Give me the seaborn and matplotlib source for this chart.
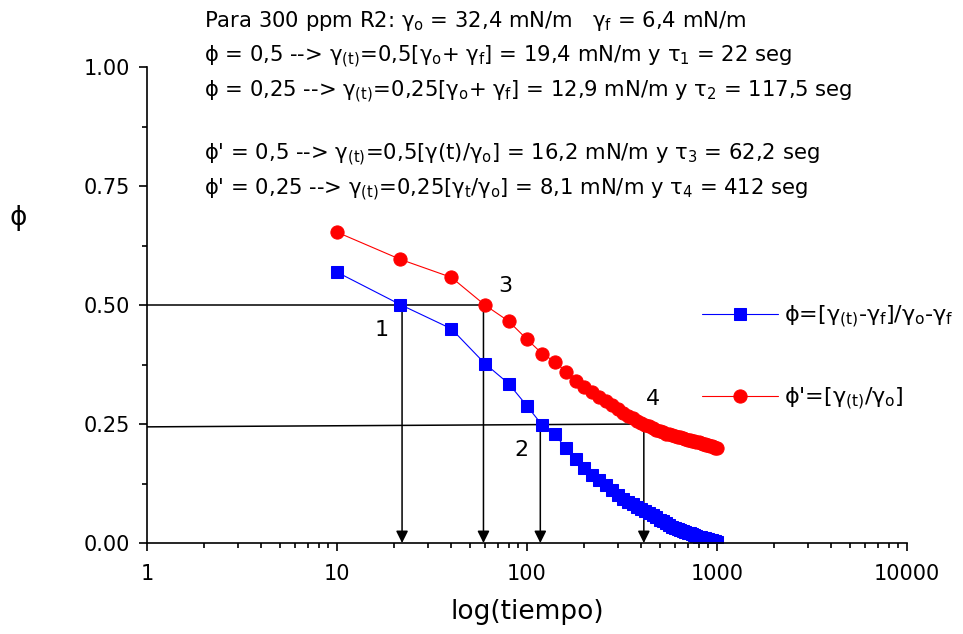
import matplotlib
matplotlib.use("Agg")
import matplotlib.pyplot as plt
import seaborn as sns
import pandas as pd

# ---- data ----
tiempo = [10, 21.5, 40, 60, 80, 100, 120, 140, 160, 180, 200, 220, 240, 260, 280,
          300, 320, 340, 360, 380, 400, 420, 440, 460, 480, 500, 520, 540, 560, 580,
          600, 620, 640, 660, 680, 700, 720, 740, 760, 780, 800, 820, 840, 860, 880,
          900, 920, 940, 960, 980, 1000]

phi = [0.569, 0.501, 0.450, 0.377, 0.335, 0.288, 0.248, 0.229, 0.199, 0.176, 0.157,
       0.143, 0.133, 0.122, 0.112, 0.101, 0.092, 0.086, 0.081, 0.076, 0.071, 0.067,
       0.062, 0.058, 0.054, 0.049, 0.046, 0.042, 0.038, 0.034, 0.031, 0.029, 0.027,
       0.025, 0.023, 0.021, 0.020, 0.018, 0.016, 0.014, 0.013, 0.012, 0.011, 0.010,
       0.009, 0.008, 0.007, 0.006, 0.005, 0.004, 0.003]

phi_prima = [0.653, 0.596, 0.558, 0.500, 0.466, 0.428, 0.398, 0.381, 0.360, 0.340,
             0.328, 0.317, 0.307, 0.298, 0.289, 0.281, 0.273, 0.267, 0.262, 0.257,
             0.252, 0.248, 0.245, 0.241, 0.238, 0.235, 0.233, 0.230, 0.229, 0.227,
             0.225, 0.223, 0.222, 0.220, 0.219, 0.217, 0.216, 0.215, 0.214, 0.213,
             0.212, 0.210, 0.209, 0.208, 0.206, 0.205, 0.204, 0.203, 0.201, 0.200,
             0.199]

x_ticks = [1, 10, 100, 1000, 10000]
x_ticklabels = ["1", "10", "100", "1000", "10000"]
y_ticks = [0.00, 0.25, 0.50, 0.75, 1.00]
y_ticklabels = ["0.00", "0.25", "0.50", "0.75", "1.00"]

# reference constructions: tau values and phi levels
tau = [22, 117.5, 59, 412]
tau_level = [0.5, 0.25, 0.5, 0.25]
mark_labels = ["1", "2", "3", "4"]
mark_pos_x = [17.2, 94, 76.5, 463]
mark_pos_y = [0.447, 0.195, 0.54, 0.3025]

label_phi = r"$\phi$=[$γ_{(t)}$-$γ_f$]/$γ_o$-$γ_f$"
label_phi_prima = r"$\phi$'=[$γ_{(t)}$/$γ_o$]"

header = [
    r"Para 300 ppm R2: $γ_o$ = 32,4 mN/m   $γ_f$ = 6,4 mN/m",
    r"$\phi$ = 0,5 --> $γ_{(t)}$=0,5[$γ_o$+ $γ_f$] = 19,4 mN/m y $τ_1$ = 22 seg",
    r"$\phi$ = 0,25 --> $γ_{(t)}$=0,25[$γ_o$+ $γ_f$] = 12,9 mN/m y $τ_2$ = 117,5 seg",
    r"$\phi$' = 0,5 --> $γ_{(t)}$=0,5[$γ$(t)/$γ_o$] = 16,2 mN/m y $τ_3$ = 62,2 seg",
    r"$\phi$' = 0,25 --> $γ_{(t)}$=0,25[$γ_t$/$γ_o$] = 8,1 mN/m y $τ_4$ = 412 seg",
]
header_baseline_px = [27, 62, 97, 160, 195]

# ---- style ----
sns.set_style("ticks")
plt.rcParams["font.family"] = ["DejaVu Sans"]
plt.rcParams["mathtext.fontset"] = "custom"
plt.rcParams["mathtext.rm"] = "DejaVu Sans"
plt.rcParams["mathtext.it"] = "DejaVu Sans"
plt.rcParams["mathtext.bf"] = "DejaVu Sans:bold"
plt.rcParams["text.color"] = "black"
plt.rcParams["axes.labelcolor"] = "black"
plt.rcParams["xtick.color"] = "black"
plt.rcParams["ytick.color"] = "black"
plt.rcParams["axes.edgecolor"] = "black"

W, H = 963, 634
fig = plt.figure(figsize=(W / 100, H / 100), dpi=100)
ax = fig.add_axes([147 / W, 1 - 543 / H, (907 - 147) / W, (543 - 67) / H])

df = pd.DataFrame({"tiempo": tiempo, "phi": phi, "phi_prima": phi_prima})

sns.lineplot(data=df, x="tiempo", y="phi", ax=ax, color="blue", marker="s",
             markersize=8, markeredgecolor="blue", linewidth=0.8,
             label=label_phi, sort=True)
sns.lineplot(data=df, x="tiempo", y="phi_prima", ax=ax, color="red", marker="o",
             markersize=9.5, markeredgecolor="red", linewidth=0.8,
             label=label_phi_prima, sort=True)

ax.set_xscale("log")
ax.set_xlim(1, 10000)
ax.set_ylim(0, 1.0)

# construction lines
ax.plot([1, tau[2]], [0.5, 0.5], color="black", linewidth=1.1, zorder=1)
ax.plot([1, tau[3]], [0.244, 0.25], color="black", linewidth=1.1, zorder=1)
for t, lv in zip(tau, tau_level):
    ax.annotate("", xy=(t, 0.0), xytext=(t, lv),
                arrowprops=dict(arrowstyle="-|>", color="black", lw=1.1,
                                mutation_scale=18, shrinkA=0, shrinkB=0),
                zorder=1)
for lab, mx, my in zip(mark_labels, mark_pos_x, mark_pos_y):
    ax.text(mx, my, lab, ha="center", va="center", fontsize=16, color="black")

# axes formatting
sns.despine(ax=ax, top=True, right=True)
ax.spines["left"].set_linewidth(1.2)
ax.spines["bottom"].set_linewidth(1.2)
ax.set_xticks(x_ticks)
ax.set_xticklabels(x_ticklabels)
ax.set_yticks(y_ticks)
ax.set_yticklabels(y_ticklabels)
ax.set_yticks([0.125, 0.375, 0.625, 0.875], minor=True)
ax.tick_params(axis="both", which="major", direction="out", length=6, width=1.2,
               labelsize=15, color="black", labelcolor="black")
ax.tick_params(axis="both", which="minor", direction="out", length=3.5, width=1.2,
               color="black")
ax.tick_params(axis="x", which="major", pad=9)
ax.tick_params(axis="y", which="major", pad=6)
ax.set_xlabel("log(tiempo)", fontsize=19, labelpad=11, color="black")
ax.set_ylabel("")
fig.text(18 / W, 1 - 218 / H, r"$\phi$", fontsize=19, ha="center", va="center",
         color="black")

leg = ax.legend(loc="upper left", bbox_to_anchor=(702 / W, 1 - 303 / H),
                bbox_transform=fig.transFigure, frameon=False, fontsize=16,
                handlelength=3.4, handletextpad=0.3, labelspacing=2.5,
                borderaxespad=0, borderpad=0)
for t in leg.get_texts():
    t.set_color("black")

for txt, b in zip(header, header_baseline_px):
    fig.text(204 / W, 1 - b / H, txt, fontsize=15.2, ha="left", va="baseline",
             color="black")

fig.savefig("out.png", dpi=100)
